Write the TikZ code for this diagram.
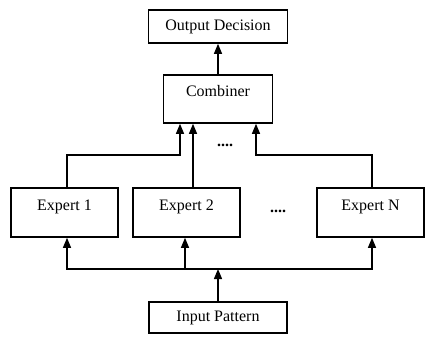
\documentclass[tikz,border=0pt]{standalone}
\usepackage{fontspec}
\setmainfont{Liberation Serif}
\usetikzlibrary{arrows.meta}

\begin{document}
\begin{tikzpicture}[x=1pt, y=-1pt, font=\fontsize{16}{19}\selectfont]
\tikzstyle{boxflat}=[rectangle, draw=black, line width=1.6pt, inner sep=0pt]
\tikzstyle{boxhigh}=[boxflat, minimum width=107pt, minimum height=49pt, text height=11pt, text depth=15pt]
\tikzstyle{drawstyle}=[line width=1.3pt, -{Triangle[length=10pt, width=8pt]}]
\useasboundingbox (0,0) rectangle (427,339);

\node[boxflat, minimum width=139pt, minimum height=33pt] (Out) at (218,26.5) {Output Decision};
\node[boxhigh, minimum width=109pt, minimum height=48pt] (Comb) at (218,99) {Combiner};
\node[boxhigh] (E1) at (64.5,212.5) {Expert 1};
\node[boxhigh] (E2) at (186.5,212.5) {Expert 2};
\node[boxhigh] (EN) at (370.5,212.5) {Expert N};
\node[boxflat, minimum width=138pt, minimum height=31pt] (In) at (218,317.5) {Input Pattern};
\node (dots1) at (225,145) {\textbf{....}};
\node (dots2) at (278,211) {\textbf{....}};

\coordinate (c1) at (180,155);
\coordinate (c2) at (193,155);
\coordinate (cN) at (256,155);
\coordinate (dN) at (372,155);
\coordinate (split) at (218,269);

\draw[drawstyle] (Comb) -- (Out);
\draw[drawstyle] ([xshift=2.5pt]E1.north) |- (c1) -- (c1 |- Comb.south);
\draw[drawstyle] (c2 |- E2.north) -- (c2 |- Comb.south);
\draw[drawstyle] (dN |- EN.north) |- (cN) -- (cN |- Comb.south);
\draw[drawstyle] (In) -- (split);
\draw[drawstyle] (split) -| ([xshift=2.5pt]E1.south);
\draw[drawstyle] (split) -| ([xshift=-1.5pt]E2.south);
\draw[drawstyle] (split) -| ([xshift=1.5pt]EN.south);
\end{tikzpicture}
\end{document}
